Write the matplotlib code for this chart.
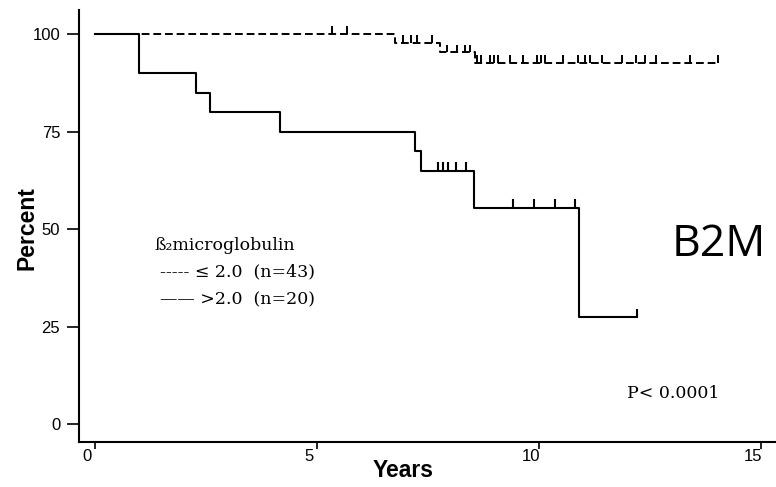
import numpy as np
import matplotlib
matplotlib.use("Agg")
import matplotlib.pyplot as plt
import matplotlib.transforms as mtransforms
from matplotlib import font_manager

# beta2 microglobulin > 2.0 (n=20), solid curve
hi_t = [0, 1.0, 2.27, 2.59, 4.17, 7.2, 7.34, 8.54, 10.9, 12.22]
hi_s = [100, 90, 85, 80, 75, 70, 65, 55.5, 27.5, 27.5]
hi_cens = [7.73, 7.84, 7.96, 8.13, 8.36, 9.41, 9.89, 10.36, 10.81, 12.22]

# beta2 microglobulin <= 2.0 (n=43), dashed curve
lo_t = [0, 6.76, 7.77, 8.56, 14.03]
lo_s = [100, 97.7, 95.3, 92.6, 92.6]
lo_cens = [5.34, 5.68, 6.94, 7.12, 7.25, 7.59, 7.93, 8.15, 8.33, 8.45,
           8.60, 8.69, 8.90, 8.99, 9.08, 9.35, 9.64, 9.95, 10.05, 10.14,
           10.54, 10.88, 11.04, 11.15, 11.42, 11.87, 12.18, 12.39, 12.64,
           13.4, 14.03]

xticks = [0, 5, 10, 15]
yticks = [0, 25, 50, 75, 100]

names = {f.name for f in font_manager.fontManager.ttflist}
narrow = 'Liberation Sans Narrow' if 'Liberation Sans Narrow' in names else 'Liberation Sans'
serif = 'DejaVu Serif'


def surv_at(t, times, surv):
    idx = np.searchsorted(times, t, side='right') - 1
    return np.asarray(surv)[idx]


fig = plt.figure(figsize=(7.76, 4.87), dpi=100)
ax = fig.add_axes([79/776, 45/487, 697/776, 432/487])

ax.step(hi_t, hi_s, where='post', color='black', lw=1.5)
ax.step(lo_t, lo_s, where='post', color='black', lw=1.4, linestyle=(0, (4, 2)))

hc = np.array(hi_cens)
hs = surv_at(hc, hi_t, hi_s)
ax.vlines(hc, hs, hs + 2.1, color='black', lw=1.5)
lc = np.array(lo_cens)
ls = surv_at(lc, lo_t, lo_s)
ax.vlines(lc, ls, ls + 2.0, color='black', lw=1.4)

ax.set_xlim(-0.36, 15.34)
ax.set_ylim(-4.6, 106.2)
for side in ['top', 'right']:
    ax.spines[side].set_visible(False)
for side in ['left', 'bottom']:
    ax.spines[side].set_linewidth(1.5)

ax.set_xticks(xticks)
ax.set_yticks(yticks)
ax.tick_params(axis='x', direction='out', length=5, width=1.2, pad=0,
               labelsize=12)
ax.tick_params(axis='y', direction='out', length=8.5, width=1.2, pad=5,
               labelsize=12)
for lab in ax.get_xticklabels() + ax.get_yticklabels():
    lab.set_family(narrow)
offset = mtransforms.ScaledTranslation(-8/100, 0, fig.dpi_scale_trans)
for tk in ax.xaxis.get_major_ticks():
    tk.label1.set_transform(tk.label1.get_transform() + offset)

ax.text(-0.0746, 0.495, 'Percent', transform=ax.transAxes, rotation=90,
        ha='center', va='center', fontsize=16.5, fontweight='bold',
        family='Liberation Sans')
ax.text(0.465, -0.065, 'Years', transform=ax.transAxes,
        ha='center', va='center', fontsize=16.5, fontweight='bold',
        family='Liberation Sans')

ax.text(1.35, 45.9, 'ß₂microglobulin', fontsize=12.5, family=serif,
        ha='left', va='center')
ax.text(1.46, 39.0, '----- ≤ 2.0  (n=43)', fontsize=12.5, family=serif,
        ha='left', va='center')
ax.text(1.46, 31.8, '—— >2.0  (n=20)', fontsize=12.5, family=serif,
        ha='left', va='center')
ax.text(11.98, 7.9, 'P< 0.0001', fontsize=12.5, family=serif,
        ha='left', va='center')
ax.text(13.0, 45.9, 'B2M', fontsize=32, family='Open Sans',
        ha='left', va='center')

fig.savefig('out.png', dpi=100)
